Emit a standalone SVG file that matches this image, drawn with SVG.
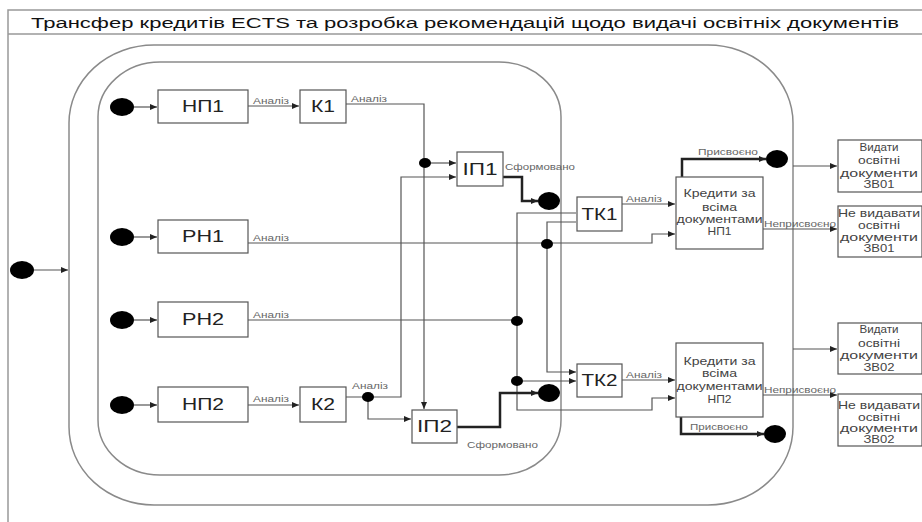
<svg xmlns="http://www.w3.org/2000/svg" width="922" height="522" viewBox="0 0 922 522">
<defs>
<marker id="arr" markerUnits="userSpaceOnUse" markerWidth="8" markerHeight="6" refX="7" refY="3" orient="auto">
<path d="M0,0 L7,3 L0,6 z" fill="#222"/>
</marker>
<style>
.frame{fill:none;stroke:#999;stroke-width:1.5}
.cont{fill:none;stroke:#8a8a8a;stroke-width:1.5}
.box{fill:#fff;stroke:#555;stroke-width:1.2}
.ln{fill:none;stroke:#555;stroke-width:1.2}
.ar{marker-end:url(#arr)}
.thick{fill:none;stroke:#222;stroke-width:2.5}
.dot{fill:#000}
.big{font-family:"Liberation Sans",Arial,sans-serif;font-size:16px;fill:#222;text-anchor:middle}
.lbl{font-family:"Liberation Sans",Arial,sans-serif;font-size:9px;fill:#666}
.mid{font-family:"Liberation Sans",Arial,sans-serif;font-size:11px;fill:#444;text-anchor:middle}
.title{font-family:"Liberation Sans",Arial,sans-serif;font-size:14px;fill:#111;text-anchor:middle}
</style>
</defs>
<rect width="922" height="522" fill="#fff"/>
<g id="frame">
<path class="frame" d="M8,522 L8,10 L922,10"/>
<line class="frame" x1="8" y1="34" x2="922" y2="34" stroke="#bbb"/>
<text class="title" x="465" y="28" textLength="868" lengthAdjust="spacingAndGlyphs">Трансфер кредитів ECTS та розробка рекомендацій щодо видачі освітніх документів</text>
</g>
<g id="outer-state"><rect class="cont" x="69" y="45" width="724" height="460" rx="85" ry="78"/></g>
<g id="inner-state"><rect class="cont" x="98" y="62" width="463" height="413" rx="62" ry="55"/></g>

<g id="connectors">
<line class="ln ar" x1="34" y1="270" x2="68" y2="270"/>
<line class="ln ar" x1="134" y1="107" x2="157" y2="107"/>
<line class="ln ar" x1="134" y1="237" x2="157" y2="237"/>
<line class="ln ar" x1="134" y1="320" x2="157" y2="320"/>
<line class="ln ar" x1="134" y1="405" x2="157" y2="405"/>
<line class="ln ar" x1="248" y1="106" x2="299" y2="106"/>
<line class="ln ar" x1="248" y1="405" x2="299" y2="405"/>
<path class="ln ar" d="M346,104 L424,104 L424,409"/>
<line class="ln ar" x1="425" y1="163" x2="456" y2="163"/>
<path class="ln ar" d="M346,397 L401,397 L401,177 L456,177"/>
<path class="ln ar" d="M368,397 L368,419 L411,419"/>
<path class="ln ar" d="M248,243 L652,243 L652,234 L675,234"/>
<path class="ln ar" d="M576,222 L547,222 L547,372 L576,372"/>
<line class="ln" x1="248" y1="320" x2="517" y2="320"/>
<path class="ln ar" d="M576,213 L517,213 L517,410 L652,410 L652,398 L675,398"/>
<line class="ln ar" x1="517" y1="381" x2="576" y2="381"/>
<path class="thick ar" d="M503,177 L522,177 L522,201 L538,201"/>
<path class="thick ar" d="M457,427 L500,427 L500,393 L538,393"/>
<line class="ln ar" x1="622" y1="204" x2="675" y2="204"/>
<line class="ln ar" x1="622" y1="380" x2="675" y2="380"/>
<path class="thick ar" d="M682,177 L682,159 L766,159"/>
<path class="thick ar" d="M681,417 L681,434 L764,434"/>
<line class="ln ar" x1="763" y1="229" x2="837" y2="229"/>
<line class="ln ar" x1="763" y1="395" x2="837" y2="395"/>
<line class="ln ar" x1="793" y1="166" x2="837" y2="166"/>
<line class="ln ar" x1="793" y1="349" x2="837" y2="349"/>
<ellipse class="dot" cx="425" cy="163" rx="6" ry="5"/>
<ellipse class="dot" cx="368" cy="397" rx="6" ry="5"/>
<ellipse class="dot" cx="547" cy="244" rx="6" ry="5"/>
<ellipse class="dot" cx="517" cy="321" rx="6" ry="5"/>
<ellipse class="dot" cx="517" cy="381" rx="6" ry="5"/>
<text class="lbl" x="253" y="104" textLength="36" lengthAdjust="spacingAndGlyphs">Аналіз</text>
<text class="lbl" x="351" y="102" textLength="36" lengthAdjust="spacingAndGlyphs">Аналіз</text>
<text class="lbl" x="253" y="241" textLength="36" lengthAdjust="spacingAndGlyphs">Аналіз</text>
<text class="lbl" x="253" y="318" textLength="36" lengthAdjust="spacingAndGlyphs">Аналіз</text>
<text class="lbl" x="253" y="402" textLength="36" lengthAdjust="spacingAndGlyphs">Аналіз</text>
<text class="lbl" x="352" y="389" textLength="36" lengthAdjust="spacingAndGlyphs">Аналіз</text>
<text class="lbl" x="626" y="202" textLength="36" lengthAdjust="spacingAndGlyphs">Аналіз</text>
<text class="lbl" x="626" y="378" textLength="36" lengthAdjust="spacingAndGlyphs">Аналіз</text>
<text class="lbl" x="505" y="170" textLength="70" lengthAdjust="spacingAndGlyphs">Сформовано</text>
<text class="lbl" x="467" y="448" textLength="71" lengthAdjust="spacingAndGlyphs">Сформовано</text>
<text class="lbl" x="698" y="155" textLength="60" lengthAdjust="spacingAndGlyphs">Присвоєно</text>
<text class="lbl" x="690" y="430" textLength="58" lengthAdjust="spacingAndGlyphs">Присвоєно</text>
<text class="lbl" x="764" y="227" textLength="72" lengthAdjust="spacingAndGlyphs">Неприсвоєно</text>
<text class="lbl" x="764" y="393" textLength="72" lengthAdjust="spacingAndGlyphs">Неприсвоєно</text>
</g>

<g id="start-main"><ellipse class="dot" cx="22" cy="270" rx="12" ry="9"/></g>
<g id="start-np1"><ellipse class="dot" cx="122" cy="107" rx="12" ry="9"/></g>
<g id="start-rn1"><ellipse class="dot" cx="122" cy="237" rx="12" ry="9"/></g>
<g id="start-rn2"><ellipse class="dot" cx="122" cy="320" rx="12" ry="9"/></g>
<g id="start-np2"><ellipse class="dot" cx="122" cy="405" rx="12" ry="9"/></g>

<g id="np1"><rect class="box" x="158" y="90" width="90" height="33"/><text class="big" x="203" y="112" textLength="42" lengthAdjust="spacingAndGlyphs">НП1</text></g>
<g id="k1"><rect class="box" x="300" y="90" width="46" height="33"/><text class="big" x="323" y="112" textLength="24" lengthAdjust="spacingAndGlyphs">К1</text></g>
<g id="rn1"><rect class="box" x="158" y="220" width="90" height="33"/><text class="big" x="203" y="242" textLength="42" lengthAdjust="spacingAndGlyphs">РН1</text></g>
<g id="rn2"><rect class="box" x="158" y="302" width="90" height="35"/><text class="big" x="203" y="325" textLength="42" lengthAdjust="spacingAndGlyphs">РН2</text></g>
<g id="np2"><rect class="box" x="158" y="387" width="90" height="35"/><text class="big" x="203" y="410" textLength="42" lengthAdjust="spacingAndGlyphs">НП2</text></g>
<g id="k2"><rect class="box" x="300" y="387" width="46" height="35"/><text class="big" x="323" y="410" textLength="24" lengthAdjust="spacingAndGlyphs">К2</text></g>
<g id="ip1"><rect class="box" x="457" y="152" width="46" height="34"/><text class="big" x="480" y="175" textLength="35" lengthAdjust="spacingAndGlyphs">ІП1</text></g>
<g id="ip2"><rect class="box" x="412" y="410" width="45" height="33"/><text class="big" x="434.5" y="432" textLength="35" lengthAdjust="spacingAndGlyphs">ІП2</text></g>
<g id="end-ip1"><ellipse class="dot" cx="549" cy="201" rx="11" ry="9"/></g>
<g id="end-ip2"><ellipse class="dot" cx="549" cy="393" rx="11" ry="9"/></g>
<g id="tk1"><rect class="box" x="577" y="197" width="45" height="34"/><text class="big" x="599.5" y="220" textLength="36" lengthAdjust="spacingAndGlyphs">ТК1</text></g>
<g id="tk2"><rect class="box" x="577" y="364" width="45" height="33"/><text class="big" x="599.5" y="386" textLength="36" lengthAdjust="spacingAndGlyphs">ТК2</text></g>

<g id="credits1"><rect class="box" x="676" y="177" width="87" height="72"/>
<text class="mid" x="719.5" y="197" textLength="72" lengthAdjust="spacingAndGlyphs">Кредити за</text>
<text class="mid" x="719.5" y="211" textLength="35" lengthAdjust="spacingAndGlyphs">всіма</text>
<text class="mid" x="719.5" y="223" textLength="86" lengthAdjust="spacingAndGlyphs">документами</text>
<text class="mid" x="719.5" y="235" textLength="24" lengthAdjust="spacingAndGlyphs">НП1</text></g>
<g id="credits2"><rect class="box" x="676" y="343" width="87" height="74"/>
<text class="mid" x="719.5" y="365" textLength="72" lengthAdjust="spacingAndGlyphs">Кредити за</text>
<text class="mid" x="719.5" y="377" textLength="35" lengthAdjust="spacingAndGlyphs">всіма</text>
<text class="mid" x="719.5" y="390" textLength="86" lengthAdjust="spacingAndGlyphs">документами</text>
<text class="mid" x="719.5" y="403" textLength="24" lengthAdjust="spacingAndGlyphs">НП2</text></g>
<g id="end-c1"><ellipse class="dot" cx="777" cy="159" rx="11" ry="9"/></g>
<g id="end-c2"><ellipse class="dot" cx="775" cy="434" rx="11" ry="9"/></g>

<g id="issue1"><rect class="box" x="838" y="140" width="84" height="52"/>
<text class="mid" x="879" y="151" textLength="39" lengthAdjust="spacingAndGlyphs">Видати</text>
<text class="mid" x="879" y="164" textLength="42" lengthAdjust="spacingAndGlyphs">освітні</text>
<text class="mid" x="879" y="177" textLength="78" lengthAdjust="spacingAndGlyphs">документи</text>
<text class="mid" x="879" y="188" textLength="31" lengthAdjust="spacingAndGlyphs">ЗВ01</text></g>
<g id="noissue1"><rect class="box" x="838" y="206" width="84" height="51"/>
<text class="mid" x="879" y="217" textLength="82" lengthAdjust="spacingAndGlyphs">Не видавати</text>
<text class="mid" x="879" y="229" textLength="42" lengthAdjust="spacingAndGlyphs">освітні</text>
<text class="mid" x="879" y="241" textLength="78" lengthAdjust="spacingAndGlyphs">документи</text>
<text class="mid" x="879" y="252" textLength="31" lengthAdjust="spacingAndGlyphs">ЗВ01</text></g>
<g id="issue2"><rect class="box" x="838" y="323" width="84" height="51"/>
<text class="mid" x="879" y="333" textLength="39" lengthAdjust="spacingAndGlyphs">Видати</text>
<text class="mid" x="879" y="347" textLength="42" lengthAdjust="spacingAndGlyphs">освітні</text>
<text class="mid" x="879" y="359" textLength="78" lengthAdjust="spacingAndGlyphs">документи</text>
<text class="mid" x="879" y="371" textLength="31" lengthAdjust="spacingAndGlyphs">ЗВ02</text></g>
<g id="noissue2"><rect class="box" x="838" y="394" width="84" height="52"/>
<text class="mid" x="879" y="409" textLength="82" lengthAdjust="spacingAndGlyphs">Не видавати</text>
<text class="mid" x="879" y="421" textLength="42" lengthAdjust="spacingAndGlyphs">освітні</text>
<text class="mid" x="879" y="432" textLength="78" lengthAdjust="spacingAndGlyphs">документи</text>
<text class="mid" x="879" y="443" textLength="31" lengthAdjust="spacingAndGlyphs">ЗВ02</text></g>
</svg>
